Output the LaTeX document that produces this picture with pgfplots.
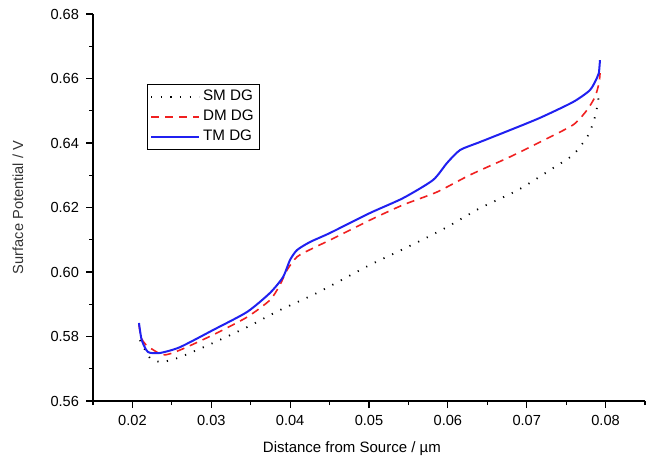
\documentclass[border=0pt]{standalone}
\usepackage{fontspec}
\setmainfont{Liberation Sans}
\usepackage{pgfplots}
\pgfplotsset{compat=1.18}
\usetikzlibrary{calc}
\definecolor{tmblue}{HTML}{2020F0}
\definecolor{dmred}{HTML}{F02020}

\begin{document}
\begin{tikzpicture}
\begin{axis}[
  name=ax, scale only axis, width=276pt, height=193.5pt,
  xmin=0.015, xmax=0.085, ymin=0.56, ymax=0.68,
  axis lines=left, axis line style={-, line width=0.6pt},
  xtick={0.02,0.03,...,0.08}, minor xtick={0.015,0.025,...,0.085},
  ytick={0.56,0.58,...,0.68}, minor ytick={0.57,0.59,...,0.67},
  scaled ticks=false,
  /pgf/number format/fixed, /pgf/number format/fixed zerofill,
  /pgf/number format/precision=2,
  /pgf/number format/assume math mode=true,
  tick align=outside, major tick length=3.5pt, minor tick length=2pt,
  tick style={black, line width=0.6pt},
  ticklabel style={font=\fontsize{7.3}{8}\selectfont},
  xlabel={Distance from Source / \textmu m},
  ylabel={Surface Potential / V},
  every axis x label/.style={at={(rel axis cs:0.469,0)}, anchor=center, yshift=-24pt,
    font=\fontsize{7.5}{9}\selectfont},
  every axis y label/.style={at={([xshift=-37.5pt]rel axis cs:0,0.5)}, rotate=90, anchor=center,
    font=\fontsize{7.3}{9}\selectfont, text=black!80},
  legend style={at={(rel axis cs:0.098,0.819)}, anchor=north west,
    font=\fontsize{7.6}{8.5}\selectfont, draw=black, line width=0.6pt,
    row sep=0pt, inner sep=1.2pt,
    nodes={inner xsep=1.5pt, inner ysep=1.6pt}},
  legend cell align=left,
  legend image code/.code={\draw[#1] (0pt,0pt) -- (24pt,0pt);},
]
\addplot[black, line width=0.9pt, dash pattern=on 0.6pt off 4.2pt, smooth, tension=0.4] coordinates {
(0.02096,0.5789)(0.02223,0.5733)(0.02375,0.5721)(0.02603,0.5736)(0.03022,0.5780)
(0.03453,0.5829)(0.03871,0.5882)(0.0434,0.5935)(0.05013,0.6022)(0.05494,0.6078)
(0.05964,0.6136)(0.06407,0.6198)(0.06889,0.6254)(0.07333,0.6322)(0.07587,0.6363)
(0.07739,0.6409)(0.0780,0.6434)(0.07866,0.6481)(0.07904,0.6527)(0.07917,0.6558)};
\addplot[dmred, line width=0.8pt, dash pattern=on 4pt off 3pt, smooth, tension=0.4] coordinates {
(0.02083,0.5836)(0.02110,0.5798)(0.02172,0.5774)(0.02388,0.5743)(0.02603,0.5758)
(0.03022,0.5805)(0.03453,0.5860)(0.03744,0.5913)(0.03871,0.5960)(0.0396,0.6006)
(0.04087,0.6047)(0.04290,0.6074)(0.04505,0.6099)(0.05013,0.6161)(0.05431,0.6208)
(0.05862,0.6248)(0.06281,0.6301)(0.06788,0.6357)(0.07168,0.6403)(0.07587,0.6456)
(0.07764,0.6502)(0.07866,0.6543)(0.07917,0.6586)(0.07930,0.6617)};
\addplot[tmblue, line width=1pt, smooth, tension=0.4] coordinates {
(0.02083,0.5842)(0.02118,0.5789)(0.02197,0.5752)(0.02350,0.5749)(0.02603,0.5767)
(0.03022,0.5820)(0.03453,0.5876)(0.03744,0.5935)(0.03909,0.5984)(0.03998,0.6037)
(0.04087,0.6068)(0.04252,0.6093)(0.04505,0.6121)(0.05013,0.6183)(0.05431,0.6229)
(0.05811,0.6285)(0.05989,0.6338)(0.06154,0.6378)(0.06407,0.6403)(0.06788,0.6440)
(0.07168,0.6478)(0.07587,0.6527)(0.07802,0.6564)(0.07891,0.6602)(0.07915,0.6617)
(0.07929,0.6657)};
\legend{SM DG, DM DG, TM DG}
\end{axis}
\pgfresetboundingbox
\path[use as bounding box] ($(ax.south west)+(-46.5pt,-29pt)$) rectangle ($(ax.north east)+(0.5pt,7pt)$);
\end{tikzpicture}
\end{document}
